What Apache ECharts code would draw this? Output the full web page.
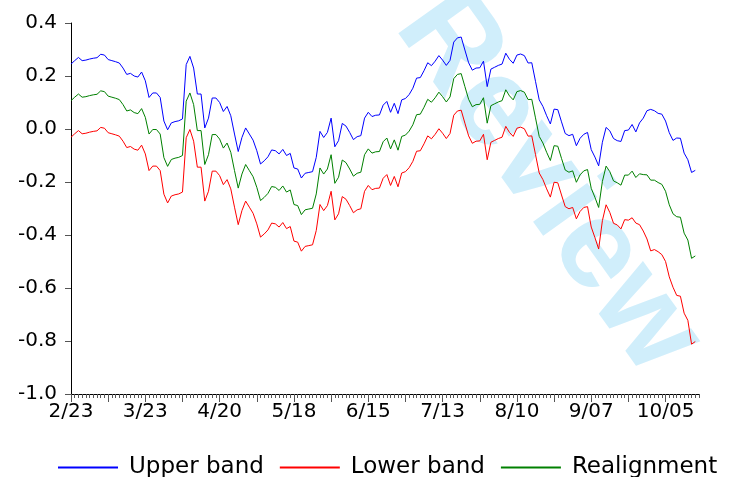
<!DOCTYPE html>
<html>
<head>
<meta charset="utf-8">
<script src="https://cdn.jsdelivr.net/npm/echarts/dist/echarts.min.js"></script>
<style>
html,body{margin:0;padding:0;background:#ffffff;}
#chart{width:733px;height:477px;}
</style>
</head>
<body>
<div id="chart"></div>
<script>
// x-axis tick labels, one every 20 business days
const tickLabels = ['2/23','3/23','4/20','5/18','6/15','7/13','8/10','9/07','10/05'];
const tickEvery = 20;
const nSlots = 170; // daily category slots along the axis

const upperBand = [
0.245,0.258,0.270,0.258,0.260,0.264,0.267,0.269,0.282,0.279,
0.262,0.258,0.254,0.249,0.230,0.206,0.210,0.200,0.196,0.215,
0.182,0.119,0.136,0.136,0.119,0.030,-0.003,0.023,0.028,0.031,
0.038,0.243,0.274,0.230,0.132,0.132,0.004,0.041,0.117,0.117,
0.100,0.066,0.085,0.050,-0.019,-0.085,-0.032,0.004,-0.019,-0.042,
-0.082,-0.132,-0.120,-0.105,-0.079,-0.082,-0.094,-0.077,-0.100,-0.092,
-0.147,-0.151,-0.185,-0.167,-0.164,-0.161,-0.107,-0.009,-0.032,-0.013,
0.041,-0.067,-0.044,0.021,0.011,-0.013,-0.040,-0.029,-0.025,0.041,
0.063,0.047,0.052,0.053,0.090,0.104,0.063,0.097,0.058,0.110,
0.115,0.130,0.154,0.192,0.194,0.220,0.250,0.239,0.256,0.277,
0.260,0.240,0.259,0.328,0.344,0.347,0.298,0.250,0.222,0.230,
0.231,0.256,0.160,0.226,0.233,0.240,0.245,0.286,0.263,0.248,
0.279,0.283,0.277,0.249,0.250,0.180,0.110,0.085,0.050,0.019,
0.075,0.073,0.027,-0.017,-0.025,-0.020,-0.063,-0.035,-0.020,-0.013,
-0.078,-0.106,-0.139,-0.050,0.006,-0.007,-0.036,-0.044,-0.047,-0.006,
-0.004,0.017,-0.011,0.023,0.041,0.069,0.074,0.069,0.059,0.056,
0.030,-0.014,-0.043,-0.034,-0.035,-0.091,-0.116,-0.164,-0.156
];

const realignment = [
0.107,0.120,0.132,0.120,0.122,0.126,0.129,0.131,0.144,0.141,
0.124,0.120,0.116,0.111,0.092,0.068,0.072,0.062,0.058,0.077,
0.044,-0.019,-0.002,-0.002,-0.019,-0.108,-0.141,-0.115,-0.110,-0.107,
-0.100,0.105,0.136,0.092,-0.006,-0.006,-0.134,-0.097,-0.021,-0.021,
-0.038,-0.072,-0.053,-0.088,-0.157,-0.223,-0.170,-0.134,-0.157,-0.180,
-0.220,-0.270,-0.258,-0.243,-0.217,-0.220,-0.232,-0.215,-0.238,-0.230,
-0.285,-0.289,-0.323,-0.305,-0.302,-0.299,-0.245,-0.147,-0.170,-0.151,
-0.097,-0.205,-0.182,-0.117,-0.127,-0.151,-0.178,-0.167,-0.163,-0.097,
-0.075,-0.091,-0.086,-0.085,-0.048,-0.034,-0.075,-0.041,-0.080,-0.028,
-0.023,-0.008,0.016,0.054,0.056,0.082,0.112,0.101,0.118,0.139,
0.122,0.102,0.121,0.190,0.206,0.209,0.160,0.112,0.084,0.092,
0.093,0.118,0.022,0.088,0.095,0.102,0.107,0.148,0.125,0.110,
0.141,0.145,0.139,0.111,0.112,0.042,-0.028,-0.053,-0.088,-0.119,
-0.063,-0.065,-0.111,-0.155,-0.163,-0.158,-0.201,-0.173,-0.158,-0.153,
-0.224,-0.258,-0.296,-0.198,-0.140,-0.161,-0.196,-0.203,-0.212,-0.174,
-0.174,-0.159,-0.183,-0.169,-0.172,-0.173,-0.193,-0.193,-0.202,-0.209,
-0.235,-0.286,-0.320,-0.331,-0.333,-0.393,-0.419,-0.488,-0.479
];

const lowerBand = [
-0.031,-0.018,-0.006,-0.018,-0.016,-0.012,-0.009,-0.007,0.006,0.003,
-0.014,-0.018,-0.022,-0.027,-0.046,-0.070,-0.066,-0.076,-0.080,-0.061,
-0.094,-0.157,-0.140,-0.140,-0.157,-0.246,-0.279,-0.253,-0.248,-0.245,
-0.238,-0.033,-0.002,-0.046,-0.144,-0.144,-0.272,-0.235,-0.159,-0.159,
-0.176,-0.210,-0.191,-0.226,-0.295,-0.361,-0.308,-0.272,-0.295,-0.318,
-0.358,-0.408,-0.396,-0.381,-0.355,-0.358,-0.370,-0.353,-0.376,-0.368,
-0.423,-0.427,-0.461,-0.443,-0.440,-0.437,-0.383,-0.285,-0.308,-0.289,
-0.235,-0.343,-0.320,-0.255,-0.265,-0.289,-0.316,-0.305,-0.301,-0.235,
-0.213,-0.229,-0.224,-0.223,-0.186,-0.172,-0.213,-0.179,-0.218,-0.166,
-0.161,-0.146,-0.122,-0.084,-0.082,-0.056,-0.026,-0.037,-0.020,0.001,
-0.016,-0.036,-0.017,0.052,0.068,0.071,0.022,-0.026,-0.054,-0.046,
-0.045,-0.020,-0.116,-0.050,-0.043,-0.036,-0.031,0.010,-0.013,-0.028,
0.003,0.007,0.001,-0.027,-0.026,-0.096,-0.166,-0.191,-0.226,-0.257,
-0.201,-0.203,-0.249,-0.293,-0.301,-0.296,-0.339,-0.311,-0.296,-0.293,
-0.370,-0.410,-0.453,-0.346,-0.286,-0.315,-0.356,-0.362,-0.377,-0.342,
-0.344,-0.335,-0.355,-0.361,-0.385,-0.415,-0.460,-0.455,-0.463,-0.474,
-0.500,-0.558,-0.597,-0.628,-0.631,-0.695,-0.722,-0.812,-0.802
];

const seriesNames = ['Upper band', 'Lower band', 'Realignment'];
const seriesColors = ['#0000ff', '#ff0000', '#008000'];

const categories = [];
for (let i = 0; i < nSlots; i++) categories.push(String(i));

const font = 'DejaVu Sans';
const chart = echarts.init(document.getElementById('chart'), null, {renderer: 'canvas'});

chart.setOption({
  animation: false,
  backgroundColor: '#ffffff',
  graphic: [{
    type: 'text',
    x: 548, y: 183,
    rotation: -0.95,
    z: -10,
    silent: true,
    style: {
      text: 'Review',
      fill: '#d0eefb',
      font: 'bold 126px "Liberation Sans", Arial, sans-serif',
      align: 'center',
      verticalAlign: 'middle'
    }
  }],
  grid: {left: 71, top: 23, width: 628, height: 371, containLabel: false},
  legend: {
    left: 57, top: 456, padding: 0,
    itemWidth: 60, itemHeight: 14, itemGap: 15,
    itemStyle: {opacity: 0},
    textStyle: {fontFamily: font, fontSize: 23, color: '#000', padding: [0, 0, 0, 6]},
    data: seriesNames
  },
  xAxis: [{
    type: 'category',
    data: categories,
    boundaryGap: false,
    axisLine: {show: true, onZero: false, lineStyle: {color: '#000', width: 1}},
    axisTick: {show: true, interval: 0, length: 4, lineStyle: {color: '#555'}},
    axisLabel: {
      interval: function (i) { return i % tickEvery === 0 && (i / tickEvery) < tickLabels.length; },
      formatter: function (v, i) { return tickLabels[i / tickEvery] || ''; },
      fontFamily: font, fontSize: 20, color: '#000', margin: 8
    },
    splitLine: {show: false}
  }, {
    type: 'category',
    data: categories,
    boundaryGap: false,
    position: 'bottom',
    axisLine: {show: false, onZero: false},
    axisTick: {show: true, interval: function (i) { return i % 10 === 0; }, length: 8, lineStyle: {color: '#555'}},
    axisLabel: {show: false},
    splitLine: {show: false}
  }],
  yAxis: {
    type: 'value',
    min: -1.0, max: 0.4, interval: 0.2,
    axisLine: {show: true, onZero: false, lineStyle: {color: '#000', width: 1}},
    axisTick: {show: true, length: 6, lineStyle: {color: '#555'}},
    axisLabel: {
      formatter: function (v) { return v.toFixed(1); },
      fontFamily: font, fontSize: 20, color: '#000', margin: 14
    },
    splitLine: {show: false}
  },
  series: [
    {name: seriesNames[0], type: 'line', data: upperBand, symbol: 'none',
     lineStyle: {color: seriesColors[0], width: 1}, itemStyle: {color: seriesColors[0]}},
    {name: seriesNames[1], type: 'line', data: lowerBand, symbol: 'none',
     lineStyle: {color: seriesColors[1], width: 1}, itemStyle: {color: seriesColors[1]}},
    {name: seriesNames[2], type: 'line', data: realignment, symbol: 'none',
     lineStyle: {color: seriesColors[2], width: 1}, itemStyle: {color: seriesColors[2]}}
  ]
});
</script>
</body>
</html>
